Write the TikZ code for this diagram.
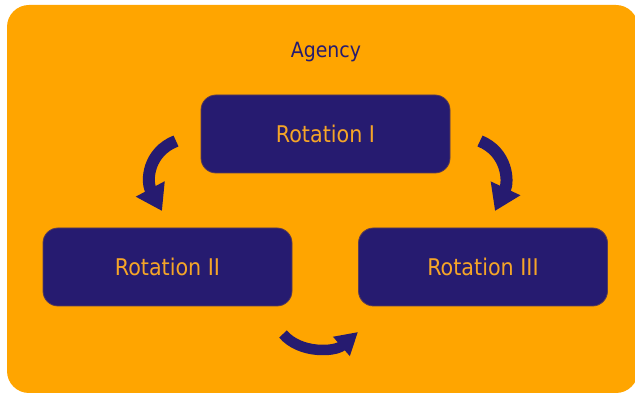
\documentclass[tikz,border=0pt]{standalone}
\usepackage{fontspec}
\setmainfont{DejaVu Sans Condensed}
\usetikzlibrary{arrows.meta}
\definecolor{bgorange}{RGB}{255,165,0}
\definecolor{navy}{RGB}{38,27,112}
\definecolor{txtorange}{RGB}{245,165,40}
\tikzset{
  rotbox/.style={draw=navy!75!bgorange, line width=0.8pt, fill=navy, rounded corners=15pt,
    minimum width=249pt, minimum height=78pt, inner sep=0pt,
    text=txtorange, font=\fontsize{23}{27}\selectfont},
  bigarrow/.style={draw=navy, line width=12pt, -{Triangle[length=25pt,width=31pt]}},
  smallarrow/.style={draw=navy, line width=10.5pt, -{Triangle[length=22pt,width=24pt]}}
}
\begin{document}
\begin{tikzpicture}[x=1pt,y=-1pt]
\useasboundingbox (0,0) rectangle (635,395);
\fill[white] (0,0) rectangle (635,395);
\fill[bgorange, rounded corners=22pt] (7,5) rectangle (638,393);
\node[anchor=base, text=navy, font=\fontsize{21}{25}\selectfont] (agency) at (326,58) {Agency};
\node[rotbox] (r1) at (325.5,134) {Rotation I};
\node[rotbox] (r2) at (167.5,267) {Rotation II};
\node[rotbox] (r3) at (483,267) {Rotation III};
\coordinate (a1s) at (176,141);
\coordinate (a1e) at (162,211);
\coordinate (a2s) at (480,141);
\coordinate (a2e) at (495,211);
\coordinate (a3s) at (283,334);
\coordinate (a3e) at (358,332);
\draw[bigarrow] (a1s) .. controls (148,152) and (146,181) .. (a1e);
\draw[bigarrow] (a2s) .. controls (507,152) and (509,181) .. (a2e);
\draw[smallarrow] (a3s) .. controls (300,354) and (335,352) .. (a3e);
\end{tikzpicture}
\end{document}
